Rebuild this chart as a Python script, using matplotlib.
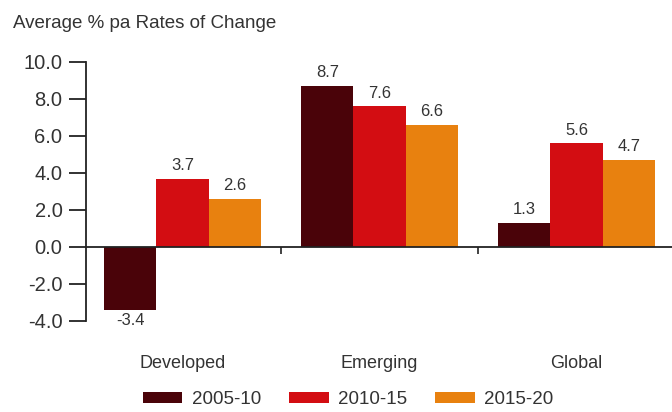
import matplotlib.pyplot as plt
import numpy as np
from matplotlib.transforms import blended_transform_factory

plt.rcParams['font.family'] = ['Liberation Sans', 'DejaVu Sans']

# dados
regioes = ['Developed', 'Emerging', 'Global']
periodos = ['2005-10', '2010-15', '2015-20']
valores = {
    '2005-10': [-3.4, 8.7, 1.3],
    '2010-15': [3.7, 7.6, 5.6],
    '2015-20': [2.6, 6.6, 4.7],
}
cores = ['#4a0309', '#d30d12', '#e8810f']
yticks = [-4.0, -2.0, 0.0, 2.0, 4.0, 6.0, 8.0, 10.0]

fig = plt.figure(figsize=(6.72, 4.12), dpi=100)
ax = fig.add_axes([0.128, 0.221, 0.872, 0.6286])

x = np.arange(len(regioes))
larg = 0.265
for i, (per, cor) in enumerate(zip(periodos, cores)):
    pos = x + (i - 1) * larg
    barras = ax.bar(pos, valores[per], width=larg, color=cor, label=per)
    for xb, v in zip(pos, valores[per]):
        if v >= 0:
            ax.annotate(f'{v:.1f}', (xb, v), xytext=(0, 4), textcoords='offset points',
                        ha='center', va='bottom', fontsize=12, color='#333333')
        else:
            ax.annotate(f'{v:.1f}', (xb, v), xytext=(0, -2), textcoords='offset points',
                        ha='center', va='top', fontsize=12, color='#333333')

ax.set_xlim(-0.49, 2.485)
ax.set_ylim(-4, 10)
ax.set_yticks(yticks)
ax.set_yticklabels([f'{t:.1f}' for t in yticks], fontsize=14.5, color='#333333')
ax.tick_params(axis='y', direction='out', length=12, width=1.3, pad=5, color='#222222')

ax.spines['top'].set_visible(False)
ax.spines['right'].set_visible(False)
ax.spines['left'].set_linewidth(1.3)
ax.spines['left'].set_color('#222222')
ax.spines['bottom'].set_position(('data', 0))
ax.spines['bottom'].set_linewidth(1.3)
ax.spines['bottom'].set_color('#222222')

ax.set_xticks([0.5, 1.5])
ax.set_xticklabels([])
ax.tick_params(axis='x', direction='out', length=5, width=1.2, color='#222222')

trans = blended_transform_factory(ax.transData, ax.transAxes)
for xi, nome in zip(x, regioes):
    ax.text(xi, -0.165, nome, transform=trans, ha='center', va='center',
            fontsize=13, color='#333333')

fig.text(0.02, 0.942, 'Average % pa Rates of Change', fontsize=13.5, color='#333333',
         ha='left', va='center')

fig.legend(loc='center', bbox_to_anchor=(0.518, 0.03), ncol=3, frameon=False,
           fontsize=13.5, handlelength=2.1, handleheight=0.55, columnspacing=1.5,
           handletextpad=0.5, labelcolor='#333333')

fig.savefig('out.png', dpi=100)
